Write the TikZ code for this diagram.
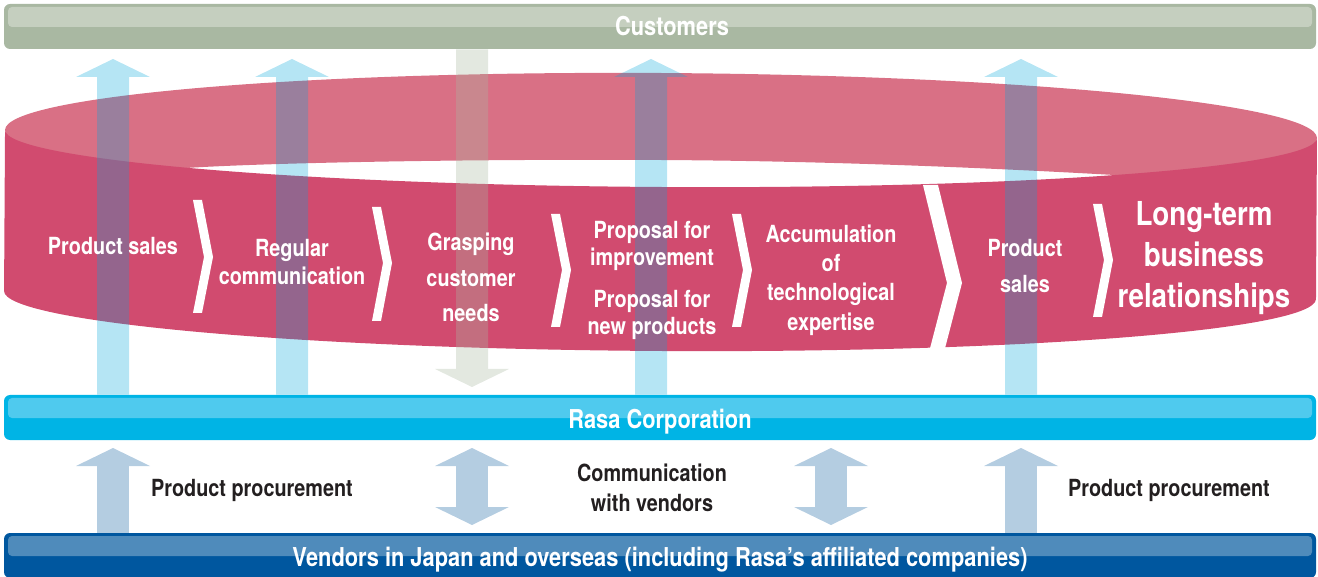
\documentclass[tikz,border=0pt]{standalone}
\usepackage{fontspec}
\setmainfont{TeX Gyre Heros}[FakeStretch=0.84]
\usepackage{tikz}
\usetikzlibrary{arrows.meta}
\usetikzlibrary{positioning}
\definecolor{custgreen}{HTML}{a9b8a2}
\definecolor{custlight}{HTML}{c5cfbf}
\definecolor{rasablue}{HTML}{00b4e5}
\definecolor{rasalight}{HTML}{4fcaee}
\definecolor{vendblue}{HTML}{00579f}
\definecolor{vendlight}{HTML}{4f8bbb}
\definecolor{ringfront}{HTML}{d14b6f}
\definecolor{ringback}{HTML}{d97085}
\definecolor{flowcyan}{HTML}{00a5d9}
\definecolor{flowsteel}{HTML}{b4cde1}
\definecolor{darktext}{HTML}{231f20}

\tikzset{
  bigtip/.tip={Triangle[width=37pt,length=9pt,line width=0pt]},
  bar/.style 2 args={rounded corners=3pt, fill=#1, minimum width=656pt,
    minimum height=22.5pt, inner sep=0pt,
    path picture={\fill[#2, rounded corners=2pt]
      ([xshift=2pt,yshift=-1.5pt]path picture bounding box.north west) rectangle
      ([xshift=-2pt,yshift=-11.5pt]path picture bounding box.north east);}},
  bartext/.style={text=white, font=\fontsize{13}{15}\selectfont\bfseries, inner sep=0pt},
  steptext/.style={text=white, font=\fontsize{11.8}{14}\selectfont\bfseries, align=center, inner sep=0pt},
  goaltext/.style={steptext, font=\fontsize{16.5}{20.6}\selectfont\bfseries},
  flowtext/.style={text=darktext, font=\fontsize{11.8}{15}\selectfont\bfseries, align=center, inner sep=0pt},
  skyflow/.style={draw=flowcyan, line width=16pt, -bigtip},
  sageflow/.style={draw=custgreen, line width=16pt, -bigtip},
  steelflow/.style={draw=flowsteel, line width=16pt, -bigtip},
}

\begin{document}
\begin{tikzpicture}[x=0.5pt, y=-0.5pt]
  \useasboundingbox (0,0) rectangle (1318,577);

  % Bars
  \node[bar={custgreen}{custlight}] (cust) at (660,26.5) {};
  \node[bar={rasablue}{rasalight}]  (rasa) at (660,417.5) {};
  \node[bar={vendblue}{vendlight}]  (vend) at (660,555.5) {};

  % Ring
  \begin{scope}[rotate around={-0.35:(661,134)}]
    \fill[ringback] (5,134) arc[start angle=180, end angle=0, x radius=328pt, y radius=30.5pt]
      .. controls (1300,190) and (1200,175) .. (1110,172)
      .. controls (950,164) and (800,160) .. (661,160)
      .. controls (500,160) and (300,164) .. (200,170)
      .. controls (100,176) and (20,190) .. (5,134) -- cycle;
    \fill[ringfront] (5,134) -- (5,295)
      arc[start angle=180, end angle=360, x radius=328pt, y radius=28pt]
      -- (1317,134)
      arc[start angle=0, end angle=-180, x radius=328pt, y radius=26.5pt] -- cycle;
  \end{scope}
  \fill[white] (923,185) -- (938,185) -- (962,283) -- (943,356) -- (928,356) -- (947,283) -- cycle;
  \foreach \cx/\ct/\cm/\cb in {193/200/257/313, 372/207/263/321, 551/214/270/327,
                               732/214/270/327, 1093/204/260/317}
    \fill[white] (\cx,\ct) -- ++(9,0) -- (\cx+20,\cm) -- (\cx+9,\cb) -- (\cx,\cb) -- (\cx+11,\cm) -- cycle;

  % Flows
  \coordinate (up1) at (113,59);
  \coordinate (up2) at (292,59);
  \coordinate (up3) at (651,59);
  \coordinate (up4) at (1021,59);
  \coordinate (dn1) at (472,387);
  \coordinate (pr1) at (113,448);
  \coordinate (pr2) at (1021,448);
  \coordinate (cv1t) at (472,448);
  \coordinate (cv1b) at (472,525);
  \coordinate (cv2t) at (831,448);
  \coordinate (cv2b) at (831,525);
  \begin{scope}[transparency group, opacity=0.29]
    \foreach \a in {up1,up2,up3,up4}
      \draw[skyflow] (\a |- rasa.north) -- (\a);
  \end{scope}
  \begin{scope}[transparency group, opacity=0.33]
    \draw[sageflow] (dn1 |- cust.south) -- (dn1);
  \end{scope}
  \draw[steelflow] (pr1 |- vend.north) -- (pr1);
  \draw[steelflow] (pr2 |- vend.north) -- (pr2);
  \draw[steelflow, bigtip-bigtip] (cv1b) -- (cv1t);
  \draw[steelflow, bigtip-bigtip] (cv2b) -- (cv2t);

  % Labels
  \node[bartext] (custtext) at (672,25.7) {Customers};
  \node[bartext] (rasatext) at (660,422) {Rasa Corporation};
  \node[bartext] (vendtext) at (660,559.5) {Vendors in Japan and overseas (including Rasa’s affiliated companies)};

  \node[steptext] (sales) at (113,246) {Product sales};
  \node[steptext] (talk) at (292,262) {Regular\\communication};
  \node[steptext] (needs) at (471,277.5) {Grasping\\[3.75pt]customer\\[3.75pt]needs};
  \node[steptext] (improve) at (652,246) {Proposal for\\[-0.5pt]improvement};
  \node[steptext, below=9.3pt of improve] (newprod) {Proposal for\\[-0.5pt]new products};
  \node[steptext] (expert) at (831,280) {Accumulation\\[0.7pt]of\\[0.7pt]technological\\[0.7pt]expertise};
  \node[steptext] (sales2) at (1025,266) {Product\\[4pt]sales};
  \node[goaltext] (longterm) at (1204,258) {Long-term\\business\\relationships};

  \node[flowtext] (procure1) at (252,490) {Product procurement};
  \node[flowtext] (vendtalk) at (652,488) {Communication\\with vendors};
  \node[flowtext] (procure2) at (1169,490) {Product procurement};
\end{tikzpicture}
\end{document}
